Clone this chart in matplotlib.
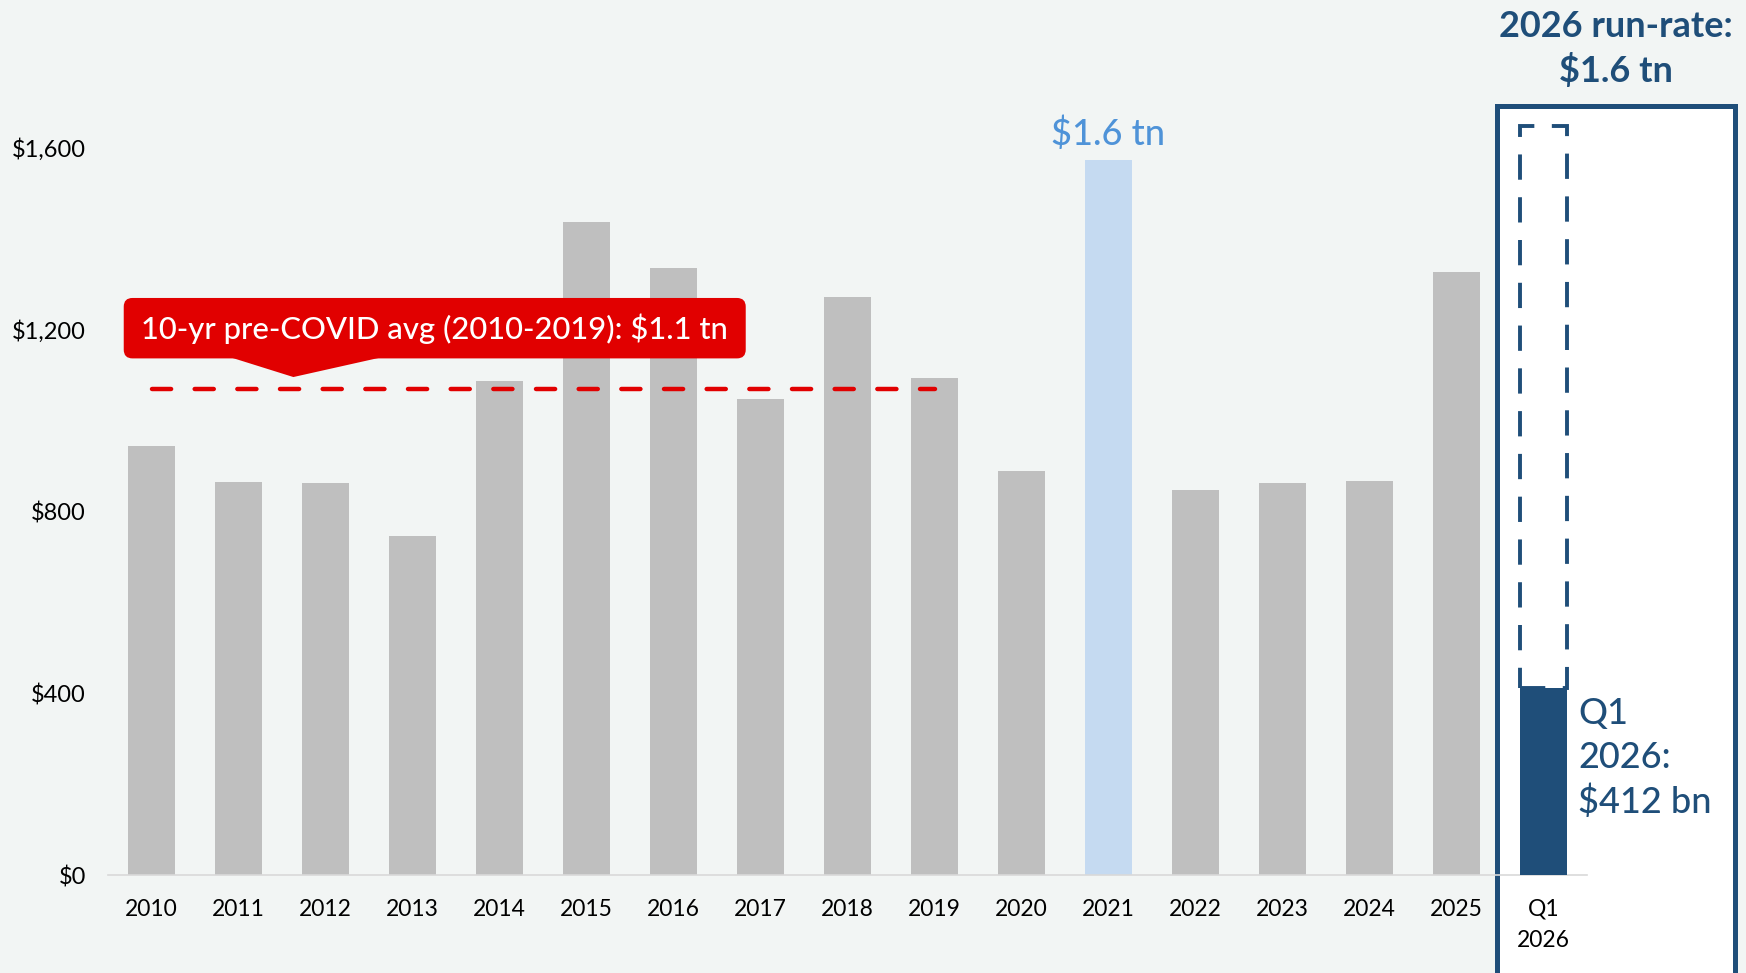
import numpy as np
import matplotlib.pyplot as plt
from matplotlib.patches import FancyBboxPatch, Polygon, Rectangle

# Annual issuance, $ bn
years = ["2010", "2011", "2012", "2013", "2014", "2015", "2016", "2017",
         "2018", "2019", "2020", "2021", "2022", "2023", "2024", "2025"]
issuance = [943, 865, 863, 745, 1088, 1436, 1336, 1047,
            1272, 1093, 890, 1574, 848, 863, 868, 1326]
pre_covid_years = years[:10]
highlight_year = "2021"

q1_tick = "Q1\n2026"
q1_2026 = 412
quarters_per_year = 4

yticks = [0, 400, 800, 1200, 1600]

BG = "#F2F5F4"
GRAY = "#BFBFBF"
LIGHT_BLUE = "#C5DAF1"
LABEL_BLUE = "#4F93D8"
NAVY = "#1F4E79"
RED = "#E10000"

plt.rcParams["font.family"] = ["Lato", "DejaVu Sans"]

fig = plt.figure(figsize=(17.46, 9.73), dpi=100, facecolor=BG)
ax = fig.add_axes([0.0619, 0.1007, 0.847, 0.8407])
ax.set_facecolor("none")

# white panel behind the Q1 2026 column
panel = Rectangle((0.8576, -0.02), 0.1361, 0.911, transform=fig.transFigure,
                  facecolor="white", edgecolor=NAVY, linewidth=3.6, zorder=-1)
fig.patches.append(panel)

x = np.arange(len(years))
colors = [LIGHT_BLUE if y == highlight_year else GRAY for y in years]
ax.bar(x, issuance, width=0.55, color=colors, zorder=2)

# Q1 actual plus the annualised run-rate outline
qx = len(years)
run_rate = q1_2026 * quarters_per_year
ax.bar(qx, run_rate - q1_2026, bottom=q1_2026, width=0.55, fill=False,
       edgecolor=NAVY, linewidth=2.8, linestyle=(0, (6.5, 4.5)), zorder=3)
ax.bar(qx, q1_2026, width=0.55, color=NAVY, zorder=4)

# pre-COVID average line
n_pre = len(pre_covid_years)
avg = np.mean(issuance[:n_pre])
ax.plot([0, n_pre - 1], [avg, avg], color=RED, lw=3.2, dashes=(4.3, 5.3),
        dash_capstyle="round", zorder=5)

# callout above the average line
aspect = 191.5
callout = FancyBboxPatch((-0.32, avg + 68), 7.15, 133,
                         boxstyle="round,pad=0,rounding_size=0.1",
                         mutation_aspect=aspect, facecolor=RED,
                         edgecolor="none", zorder=6)
ax.add_patch(callout)
ax.add_patch(Polygon([(0.88, avg + 72), (2.68, avg + 72), (1.63, avg + 27)],
                     closed=True, facecolor=RED, edgecolor="none", zorder=6))
ax.text(3.25, avg + 134, f"10-yr pre-COVID avg ({pre_covid_years[0]}-{pre_covid_years[-1]}): ${avg / 1000:.1f} tn",
        color="white", fontsize=22.3, fontweight="medium", ha="center",
        va="center", zorder=7)

# peak year label
hi = years.index(highlight_year)
ax.annotate(f"${issuance[hi] / 1000:.1f} tn", (hi, issuance[hi]),
            xytext=(0, 6), textcoords="offset points", ha="center",
            va="bottom", fontsize=26, fontweight="medium", color=LABEL_BLUE)

ax.text(qx + 0.4, 257, f"Q1\n2026:\n${q1_2026} bn", color=NAVY, fontsize=26,
        fontweight="medium", ha="left", va="center", linespacing=1.38,
        zorder=5)

fig.text(0.9256, 0.99, f"2026 run-rate:\n${run_rate / 1000:.1f} tn",
         color=NAVY, fontsize=26, fontweight="bold", ha="center", va="top",
         linespacing=1.35)

ax.set_xlim(-0.5, qx + 0.5)
ax.set_ylim(0, 1800)
ax.set_xticks(list(x) + [qx])
ax.set_xticklabels(years + [q1_tick])
ax.get_xticklabels()[-1].set_linespacing(1.6)
ax.set_yticks(yticks)
ax.set_yticklabels([f"${v:,}" for v in yticks])
ax.tick_params(axis="x", length=0, labelsize=16.5, pad=17)
ax.tick_params(axis="y", length=0, labelsize=17, pad=16)

for side in ["top", "right", "left"]:
    ax.spines[side].set_visible(False)
ax.spines["bottom"].set_color("#D9D9D9")
ax.spines["bottom"].set_linewidth(1.2)

fig.savefig("out.png", dpi=100, facecolor=BG)
